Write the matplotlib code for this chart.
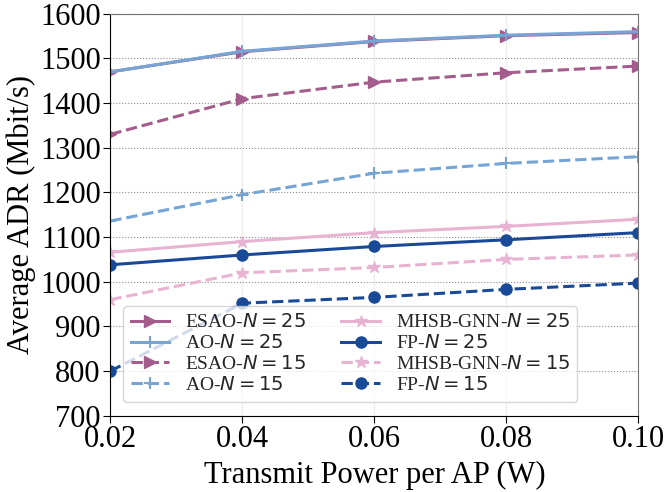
import matplotlib
matplotlib.use("Agg")
import matplotlib.pyplot as plt
from matplotlib import ticker

plt.rcParams["font.family"] = ["Liberation Serif", "DejaVu Serif"]
plt.rcParams["mathtext.fontset"] = "dejavusans"

power = [0.02, 0.04, 0.06, 0.08, 0.10]

esao_25 = [1470, 1515, 1538, 1551, 1558]
ao_25 = [1470, 1516, 1539, 1552, 1560]
esao_15 = [1330, 1410, 1447, 1468, 1483]
ao_15 = [1136, 1195, 1243, 1265, 1280]
mhsb_25 = [1066, 1090, 1110, 1124, 1140]
fp_25 = [1038, 1060, 1079, 1094, 1110]
mhsb_15 = [960, 1020, 1032, 1050, 1060]
fp_15 = [800, 952, 965, 983, 997]

c_esao = "#A45C8C"
c_ao = "#76A5D5"
c_mhsb = "#E8B2D2"
c_fp = "#184A98"


def main() -> None:
    fig, ax = plt.subplots(figsize=(6.65, 4.92), dpi=100)

    lw = 2.2
    ax.plot(power, esao_25, color=c_esao, lw=lw, marker=">", ms=9, label=r"ESAO-$N=25$")
    ax.plot(power, ao_25, color=c_ao, lw=lw, marker="+", ms=9, mew=1.5, label=r"AO-$N=25$")
    ax.plot(power, esao_15, color=c_esao, lw=lw, ls="--", marker=">", ms=9, label=r"ESAO-$N=15$")
    ax.plot(power, ao_15, color=c_ao, lw=lw, ls="--", marker="+", ms=9, mew=1.5, label=r"AO-$N=15$")
    ax.plot(power, mhsb_25, color=c_mhsb, lw=lw, marker="*", ms=9, label=r"MHSB-GNN-$N=25$")
    ax.plot(power, fp_25, color=c_fp, lw=lw, marker="o", ms=8, label=r"FP-$N=25$")
    ax.plot(power, mhsb_15, color=c_mhsb, lw=lw, ls="--", marker="*", ms=9, label=r"MHSB-GNN-$N=15$")
    ax.plot(power, fp_15, color=c_fp, lw=lw, ls="--", marker="o", ms=8, label=r"FP-$N=15$")

    ax.set_xlim(0.02, 0.10)
    ax.set_ylim(700, 1600)
    ax.xaxis.set_major_locator(ticker.MultipleLocator(0.02))
    ax.yaxis.set_major_locator(ticker.MultipleLocator(100))
    ax.xaxis.set_major_formatter(ticker.FormatStrFormatter("%.2f"))

    ax.grid(axis="y", linestyle=":", color="0.55", lw=0.8)
    ax.grid(axis="x", linestyle="-", color="0.92", lw=0.8)
    ax.set_axisbelow(True)

    for s in ["top", "right"]:
        ax.spines[s].set_color("0.45")
    for s in ["left", "bottom"]:
        ax.spines[s].set_color("black")
    ax.tick_params(labelsize=22, length=5, color="black", pad=2)

    ax.set_xlabel("Transmit Power per AP (W)", fontsize=22, labelpad=5)
    ax.set_ylabel("Average ADR (Mbit/s)", fontsize=22, labelpad=3)

    leg = ax.legend(ncol=2, loc="lower left", fontsize=14, handlelength=2.0,
                    labelspacing=0.15, columnspacing=1.8, borderpad=0.4,
                    framealpha=0.8, fancybox=True, bbox_to_anchor=(0.005, 0.01))
    leg.get_frame().set_edgecolor("0.8")
    for t in leg.get_texts():
        t.set_color("0.15")

    fig.subplots_adjust(left=0.166, right=0.96, top=0.972, bottom=0.155)
    fig.savefig("out.png", dpi=100)
    plt.close(fig)


if __name__ == "__main__":
    main()
